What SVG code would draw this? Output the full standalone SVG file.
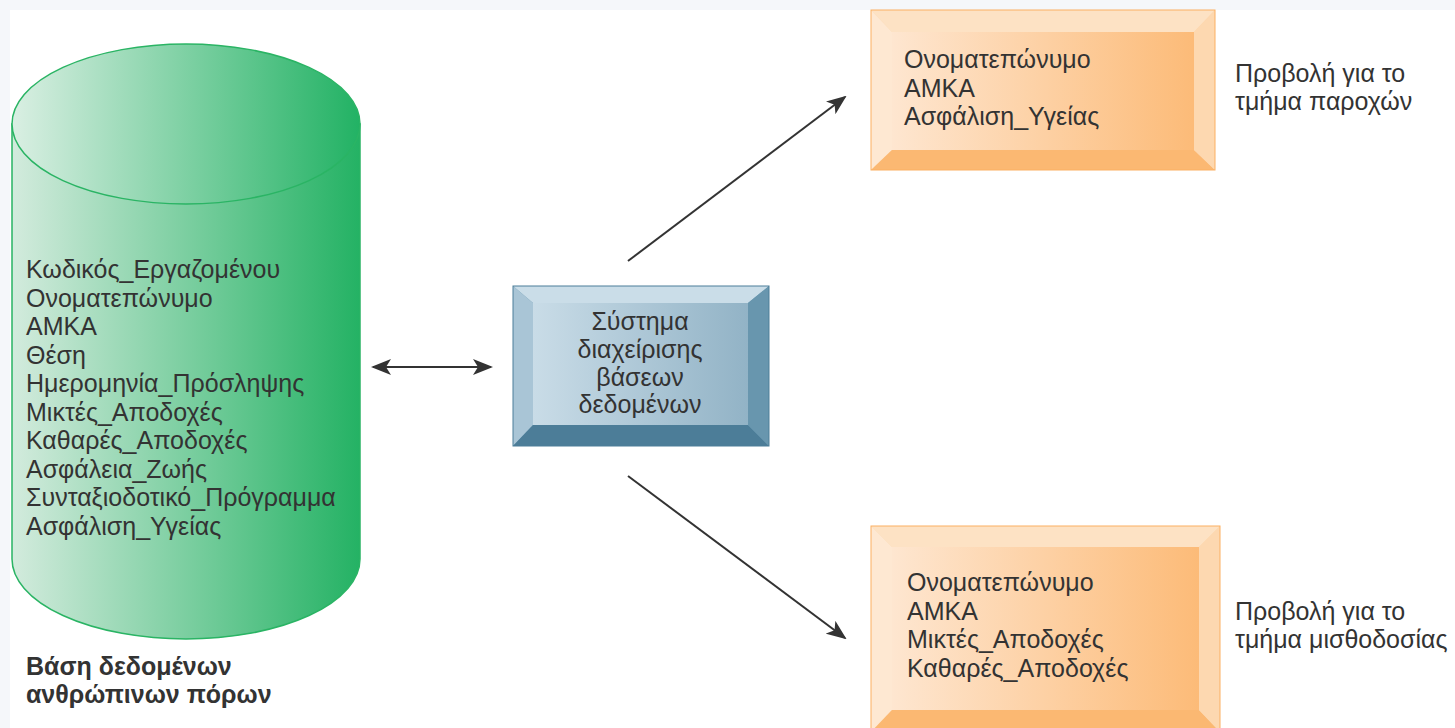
<svg xmlns="http://www.w3.org/2000/svg" width="1455" height="728" viewBox="0 0 1455 728">
<defs>
<style>
.t{font-family:"Liberation Sans",Arial,sans-serif;font-size:25px;fill:#333}
.b{font-weight:bold}
.c{stroke:#333;stroke-width:2;fill:none}
</style>
<linearGradient id="gBody" x1="0" y1="0" x2="1" y2="0">
<stop offset="0" stop-color="#d3ebdd"/><stop offset="1" stop-color="#24b264"/>
</linearGradient>
<linearGradient id="gTop" x1="0" y1="0" x2="1" y2="0">
<stop offset="0" stop-color="#daefe3"/><stop offset="1" stop-color="#22b264"/>
</linearGradient>
<linearGradient id="gBlue" x1="0" y1="0" x2="1" y2="0">
<stop offset="0" stop-color="#c9dce7"/><stop offset="1" stop-color="#92b3c6"/>
</linearGradient>
<linearGradient id="gOr" x1="0" y1="0" x2="1" y2="0">
<stop offset="0" stop-color="#fee6d0"/><stop offset="1" stop-color="#fcbb78"/>
</linearGradient>
<marker id="ah" viewBox="0 0 20 16" refX="18" refY="8" markerWidth="20" markerHeight="16" markerUnits="userSpaceOnUse" orient="auto-start-reverse">
<path d="M0,0 L20,8 L0,16 L5,8 Z" fill="#333"/>
</marker>
</defs>
<rect width="1455" height="728" fill="#f5f7fa"/>
<rect x="10" y="10" width="1445" height="718" fill="#fff"/>

<g id="db">
<path d="M12,124 L12,559 A174,80 0 0 0 360,559 L360,124 Z" fill="url(#gBody)" stroke="#2ab464" stroke-width="1.5"/>
<ellipse cx="186" cy="124" rx="174" ry="80" fill="url(#gTop)" stroke="#2ab464" stroke-width="1.5"/>
<text class="t" x="26" y="278">Κωδικός_Εργαζομένου</text>
<text class="t" x="26" y="306.5">Ονοματεπώνυμο</text>
<text class="t" x="26" y="335">ΑΜΚΑ</text>
<text class="t" x="26" y="363.5">Θέση</text>
<text class="t" x="26" y="392">Ημερομηνία_Πρόσληψης</text>
<text class="t" x="26" y="420.5">Μικτές_Αποδοχές</text>
<text class="t" x="26" y="449">Καθαρές_Αποδοχές</text>
<text class="t" x="26" y="477.5">Ασφάλεια_Ζωής</text>
<text class="t" x="26" y="506">Συνταξιοδοτικό_Πρόγραμμα</text>
<text class="t" x="26" y="534.5">Ασφάλιση_Υγείας</text>
</g>
<g id="dbLabel">
<text class="t b" x="26" y="675">Βάση δεδομένων</text>
<text class="t b" x="26" y="703">ανθρώπινων πόρων</text>
</g>

<g id="dbms">
<rect x="513" y="286" width="256" height="160" fill="#6a98b0"/>
<polygon points="513,286 769,286 748,303 533,303" fill="#cadde8"/>
<polygon points="513,286 533,303 533,425 513,446" fill="#a9c5d6"/>
<polygon points="513,446 533,425 748,425 769,446" fill="#4c7d98"/>
<polygon points="769,286 748,303 748,425 769,446" fill="#6896ae"/>
<rect x="533" y="303" width="215" height="122" fill="url(#gBlue)"/>
<rect x="513" y="286" width="256" height="160" fill="none" stroke="#4d7f99" stroke-width="1"/>
<text class="t" x="640" y="330" text-anchor="middle">Σύστημα</text>
<text class="t" x="640" y="358" text-anchor="middle">διαχείρισης</text>
<text class="t" x="640" y="386" text-anchor="middle">βάσεων</text>
<text class="t" x="640" y="413" text-anchor="middle">δεδομένων</text>
</g>

<g id="view1">
<rect x="871" y="10" width="344" height="160" fill="#fdd6a8"/>
<polygon points="871,10 1215,10 1194,32 892,32" fill="#fde2c4"/>
<polygon points="871,10 892,32 892,150 871,170" fill="#fee8d2"/>
<polygon points="871,170 892,150 1194,150 1215,170" fill="#fbb872"/>
<polygon points="1215,10 1194,32 1194,150 1215,170" fill="#fdd8b0"/>
<rect x="892" y="32" width="302" height="118" fill="url(#gOr)"/>
<rect x="871" y="10" width="344" height="160" fill="none" stroke="#fbb062" stroke-width="1"/>
<text class="t" x="904" y="68">Ονοματεπώνυμο</text>
<text class="t" x="904" y="97">ΑΜΚΑ</text>
<text class="t" x="904" y="125">Ασφάλιση_Υγείας</text>
</g>
<g id="view1Label">
<text class="t" x="1235" y="82">Προβολή για το</text>
<text class="t" x="1235" y="110">τμήμα παροχών</text>
</g>

<g id="view2">
<rect x="871" y="526" width="349" height="206" fill="#fdd6a8"/>
<polygon points="871,526 1220,526 1199,547 892,547" fill="#fde2c4"/>
<polygon points="871,526 892,547 892,710 871,732" fill="#fee8d2"/>
<polygon points="871,732 892,710 1199,710 1220,732" fill="#fbb872"/>
<polygon points="1220,526 1199,547 1199,710 1220,732" fill="#fdd8b0"/>
<rect x="892" y="547" width="307" height="163" fill="url(#gOr)"/>
<rect x="871" y="526" width="349" height="206" fill="none" stroke="#fbb062" stroke-width="1"/>
<text class="t" x="907" y="591">Ονοματεπώνυμο</text>
<text class="t" x="907" y="620">ΑΜΚΑ</text>
<text class="t" x="907" y="648">Μικτές_Αποδοχές</text>
<text class="t" x="907" y="677">Καθαρές_Αποδοχές</text>
</g>
<g id="view2Label">
<text class="t" x="1235" y="620">Προβολή για το</text>
<text class="t" x="1235" y="648">τμήμα μισθοδοσίας</text>
</g>

<g id="connectors">
<line class="c" x1="373" y1="367" x2="491" y2="367" marker-start="url(#ah)" marker-end="url(#ah)"/>
<line class="c" x1="628" y1="261" x2="845" y2="97" marker-end="url(#ah)"/>
<line class="c" x1="628" y1="476" x2="845" y2="638" marker-end="url(#ah)"/>
</g>
</svg>
